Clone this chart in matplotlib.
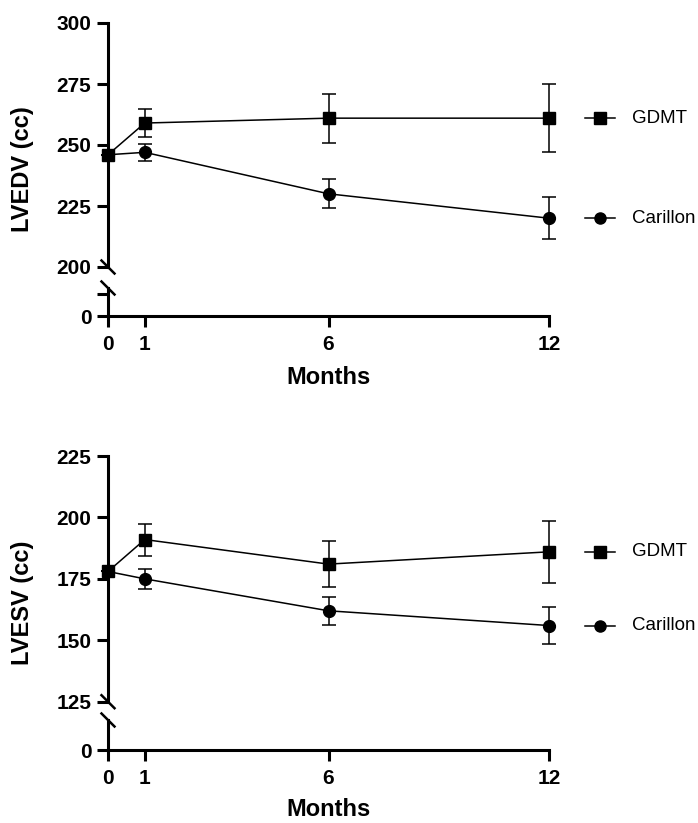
"""LVEDV / LVESV over follow-up, GDMT vs Carillon, broken y axes."""

import matplotlib.pyplot as plt

plt.rcParams["font.family"] = ["Liberation Sans", "DejaVu Sans"]

months = [0, 1, 6, 12]
month_ticks = [0, 1, 6, 12]

# LVEDV (cc)
edv_gdmt = [246, 259, 261, 261]
edv_gdmt_err = [0, 5.7, 10, 14]
edv_car = [246, 247, 230, 220]
edv_car_err = [0, 3.5, 6, 8.5]
edv_ticks = [200, 225, 250, 275, 300]

# LVESV (cc)
esv_gdmt = [178, 191, 181, 186]
esv_gdmt_err = [0, 6.5, 9.3, 12.5]
esv_car = [178, 175, 162, 156]
esv_car_err = [0, 4, 5.7, 7.5]
esv_ticks = [125, 150, 175, 200, 225]

W, H = 698, 823
SPINE = 2.2
BOLD = dict(fontweight="bold")


def fy(py):
    return 1 - py / H


def panel(fig, upper_px, lower_px, yticks, gdmt, gdmt_err, car, car_err,
          ylabel, months_y, lower_tick):
    x0, x1 = 108, 549
    top, brk = upper_px
    ltop, zero = lower_px

    up = fig.add_axes([x0 / W, fy(brk), (x1 - x0) / W, (brk - top) / H])
    lo = fig.add_axes([x0 / W, fy(zero), (x1 - x0) / W, (zero - ltop) / H])

    for ax in (up, lo):
        ax.set_xlim(0, 12)
        ax.patch.set_visible(False)
        for s in ("top", "right"):
            ax.spines[s].set_visible(False)
        ax.spines["left"].set_linewidth(SPINE)
        ax.tick_params(axis="both", width=SPINE, length=8, labelsize=15,
                       pad=4)

    up.spines["bottom"].set_visible(False)
    up.set_ylim(yticks[0], yticks[-1])
    up.set_yticks(yticks)
    up.set_yticklabels([str(t) for t in yticks], **BOLD)
    up.set_xticks([])

    lo.spines["bottom"].set_linewidth(SPINE)
    lo.set_ylim(0, 1)
    if lower_tick:
        lo.set_yticks([0, 0.8])
        lo.set_yticklabels(["0", ""], **BOLD)
    else:
        lo.set_yticks([0])
        lo.set_yticklabels(["0"], **BOLD)
    lo.set_xticks(month_ticks)
    lo.set_xticklabels([str(m) for m in month_ticks], **BOLD)
    lo.tick_params(axis="x", pad=6)

    # data
    kw = dict(color="black", lw=1.1, elinewidth=1.1, capsize=5,
              capthick=1.1, markersize=8.5, clip_on=False, zorder=3)
    up.errorbar(months, gdmt, yerr=gdmt_err, marker="s", **kw)
    up.errorbar(months, car, yerr=car_err, marker="o", **kw)

    # break marks
    for cy in (brk, ltop):
        fig.add_artist(plt.Line2D([(x0 - 6.5) / W, (x0 + 6.5) / W],
                                  [fy(cy - 6.5), fy(cy + 6.5)],
                                  color="black", lw=1.8))

    # legend entries beside the last points
    for vals, mk, name in ((gdmt, "s", "GDMT"), (car, "o", "Carillon")):
        y = vals[-1]
        up.plot([12.97, 13.8], [y, y], color="black", lw=1.1, clip_on=False)
        up.plot([13.38], [y], marker=mk, color="black", markersize=8,
                clip_on=False)
        up.text(14.25, y, name, fontsize=13.5, va="center", ha="left")

    fig.text(23 / W, fy((top + zero) / 2), ylabel, rotation=90, fontsize=17,
             ha="center", va="center", **BOLD)
    fig.text((x0 + x1) / 2 / W, fy(months_y), "Months", fontsize=17,
             ha="center", va="center", **BOLD)


def main():
    fig = plt.figure(figsize=(W / 100, H / 100), dpi=100)
    panel(fig, (23, 267), (288, 316), edv_ticks, edv_gdmt, edv_gdmt_err,
          edv_car, edv_car_err, "LVEDV (cc)", 378, True)
    panel(fig, (456, 701.7), (720, 750), esv_ticks, esv_gdmt, esv_gdmt_err,
          esv_car, esv_car_err, "LVESV (cc)", 810, False)
    fig.savefig("out.png", dpi=100)
    plt.close(fig)


if __name__ == "__main__":
    main()
